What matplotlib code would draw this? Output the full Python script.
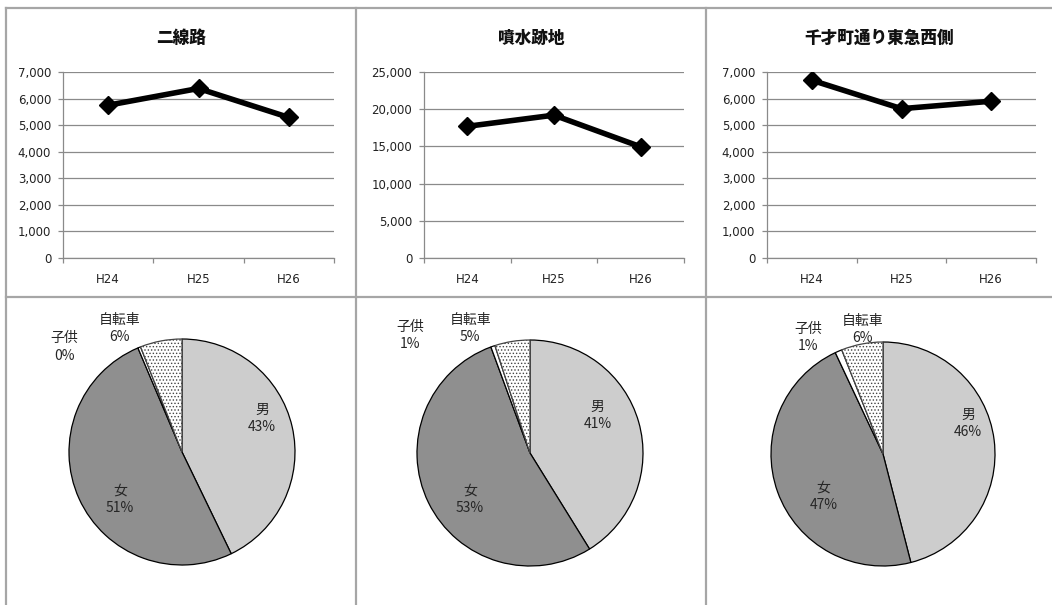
import matplotlib
matplotlib.use("Agg")
import matplotlib.pyplot as plt
from matplotlib.lines import Line2D
from matplotlib.ticker import FuncFormatter, MultipleLocator

plt.rcParams['font.family'] = ['Noto Sans CJK JP', 'DejaVu Sans']
plt.rcParams['hatch.linewidth'] = 0.6

# ---- data ----
years = ["H24", "H25", "H26"]
titles = ["二線路", "噴水跡地", "千才町通り東急西側"]
counts_nisenro = [5750, 6380, 5290]
counts_funsui = [17700, 19200, 14950]
counts_sensai = [6690, 5620, 5900]
y_max = [7000, 25000, 7000]
y_step = [1000, 5000, 1000]

pie_labels = ["男", "女", "子供", "自転車"]
share_nisenro = [43, 51, 0.4, 6]
share_funsui = [41, 53, 0.6, 5]
share_sensai = [46, 47, 1, 6]

# ---- layout / style ----
W, H = 1052, 605
fig = plt.figure(figsize=(W / 100, H / 100), dpi=100)
fig.patch.set_facecolor("white")


def box(x0, y0, x1, y1):
    return [x0 / W, 1 - y1 / H, (x1 - x0) / W, (y1 - y0) / H]


line_boxes = [(63, 72, 334, 258), (424, 72, 684, 258), (767, 72, 1036, 258)]
panel_centers = [181, 531, 879]
series = [counts_nisenro, counts_funsui, counts_sensai]
grid_c = "#8a8a8a"

for i in range(3):
    ax = fig.add_axes(box(*line_boxes[i]))
    x = list(range(len(years)))
    ax.plot(x, series[i], color="black", lw=4.0, marker="D", markersize=9.5,
            solid_joinstyle="round", zorder=3)
    ax.set_xlim(-0.5, 2.5)
    ax.set_ylim(0, y_max[i])
    ax.yaxis.set_major_locator(MultipleLocator(y_step[i]))
    ax.yaxis.set_major_formatter(FuncFormatter(lambda v, p: f"{int(v):,}"))
    ax.set_xticks(x)
    ax.set_xticklabels(years)
    ax.set_xticks([-0.5, 0.5, 1.5, 2.5], minor=True)
    ax.tick_params(axis="x", which="major", length=0, pad=11, labelsize=8.5,
                   labelcolor="#222222", labelfontfamily="DejaVu Sans")
    ax.tick_params(axis="x", which="minor", length=3.5, color=grid_c, width=0.9)
    ax.tick_params(axis="y", length=3.5, color=grid_c, width=0.9, pad=5,
                   labelsize=8.5, labelcolor="#222222",
                   labelfontfamily="DejaVu Sans")
    ax.grid(axis="y", color=grid_c, lw=0.9)
    ax.set_axisbelow(True)
    for s in ["top", "right"]:
        ax.spines[s].set_visible(False)
    for s in ["left", "bottom"]:
        ax.spines[s].set_color(grid_c)
        ax.spines[s].set_linewidth(0.9)
    fig.text(panel_centers[i] / W, 1 - 38 / H, titles[i], ha="center",
             va="center", fontsize=12, fontweight="heavy", color="#111111")

# ---- pies ----
pie_centers = [(182, 452), (530, 453), (883, 454)]
pie_r = [113, 113, 112]
shares = [share_nisenro, share_funsui, share_sensai]
pie_colors = ["#cdcdcd", "#8f8f8f", "white", "white"]
label_pos = [
    [(0.71, 0.30), (-0.55, -0.42), (-1.04, 0.93), (-0.55, 1.09)],
    [(0.60, 0.33), (-0.53, -0.41), (-1.06, 1.04), (-0.53, 1.10)],
    [(0.76, 0.27), (-0.53, -0.38), (-0.67, 1.04), (-0.18, 1.11)],
]

for i in range(3):
    cx, cy = pie_centers[i]
    r = pie_r[i]
    half = 1.6 * r
    ax = fig.add_axes(box(cx - half, cy - half, cx + half, cy + half))
    vals = shares[i]
    wedges, _ = ax.pie(vals, colors=pie_colors, startangle=90, counterclock=False,
                       radius=1, center=(0, 0),
                       wedgeprops=dict(edgecolor="black", linewidth=0.9))
    wedges[3].set_hatch(".....")
    wedges[3].set_edgecolor("#444444")
    ax.set_xlim(-1.6, 1.6)
    ax.set_ylim(-1.6, 1.6)
    ax.set_aspect("equal")
    ax.axis("off")
    total = sum(vals)
    for j, name in enumerate(pie_labels):
        pct = vals[j] / total * 100
        dx, dy = label_pos[i][j]
        ax.text(dx, dy, f"{name}\n{pct:.0f}%", ha="center", va="center",
                fontsize=10, color="#262626", linespacing=1.3)

# ---- frame lines ----
fc = "#a6a6a6"


def hline(y, x0, x1):
    fig.add_artist(Line2D([x0 / W, x1 / W], [1 - y / H, 1 - y / H], color=fc, lw=1.6))


def vline(x, y0, y1):
    fig.add_artist(Line2D([x / W, x / W], [1 - y0 / H, 1 - y1 / H], color=fc, lw=1.6))


hline(8, 6, W)
hline(297, 6, W)
vline(6, 8, H)
vline(356, 8, H)
vline(706, 8, H)

fig.savefig("out.png", dpi=100)
